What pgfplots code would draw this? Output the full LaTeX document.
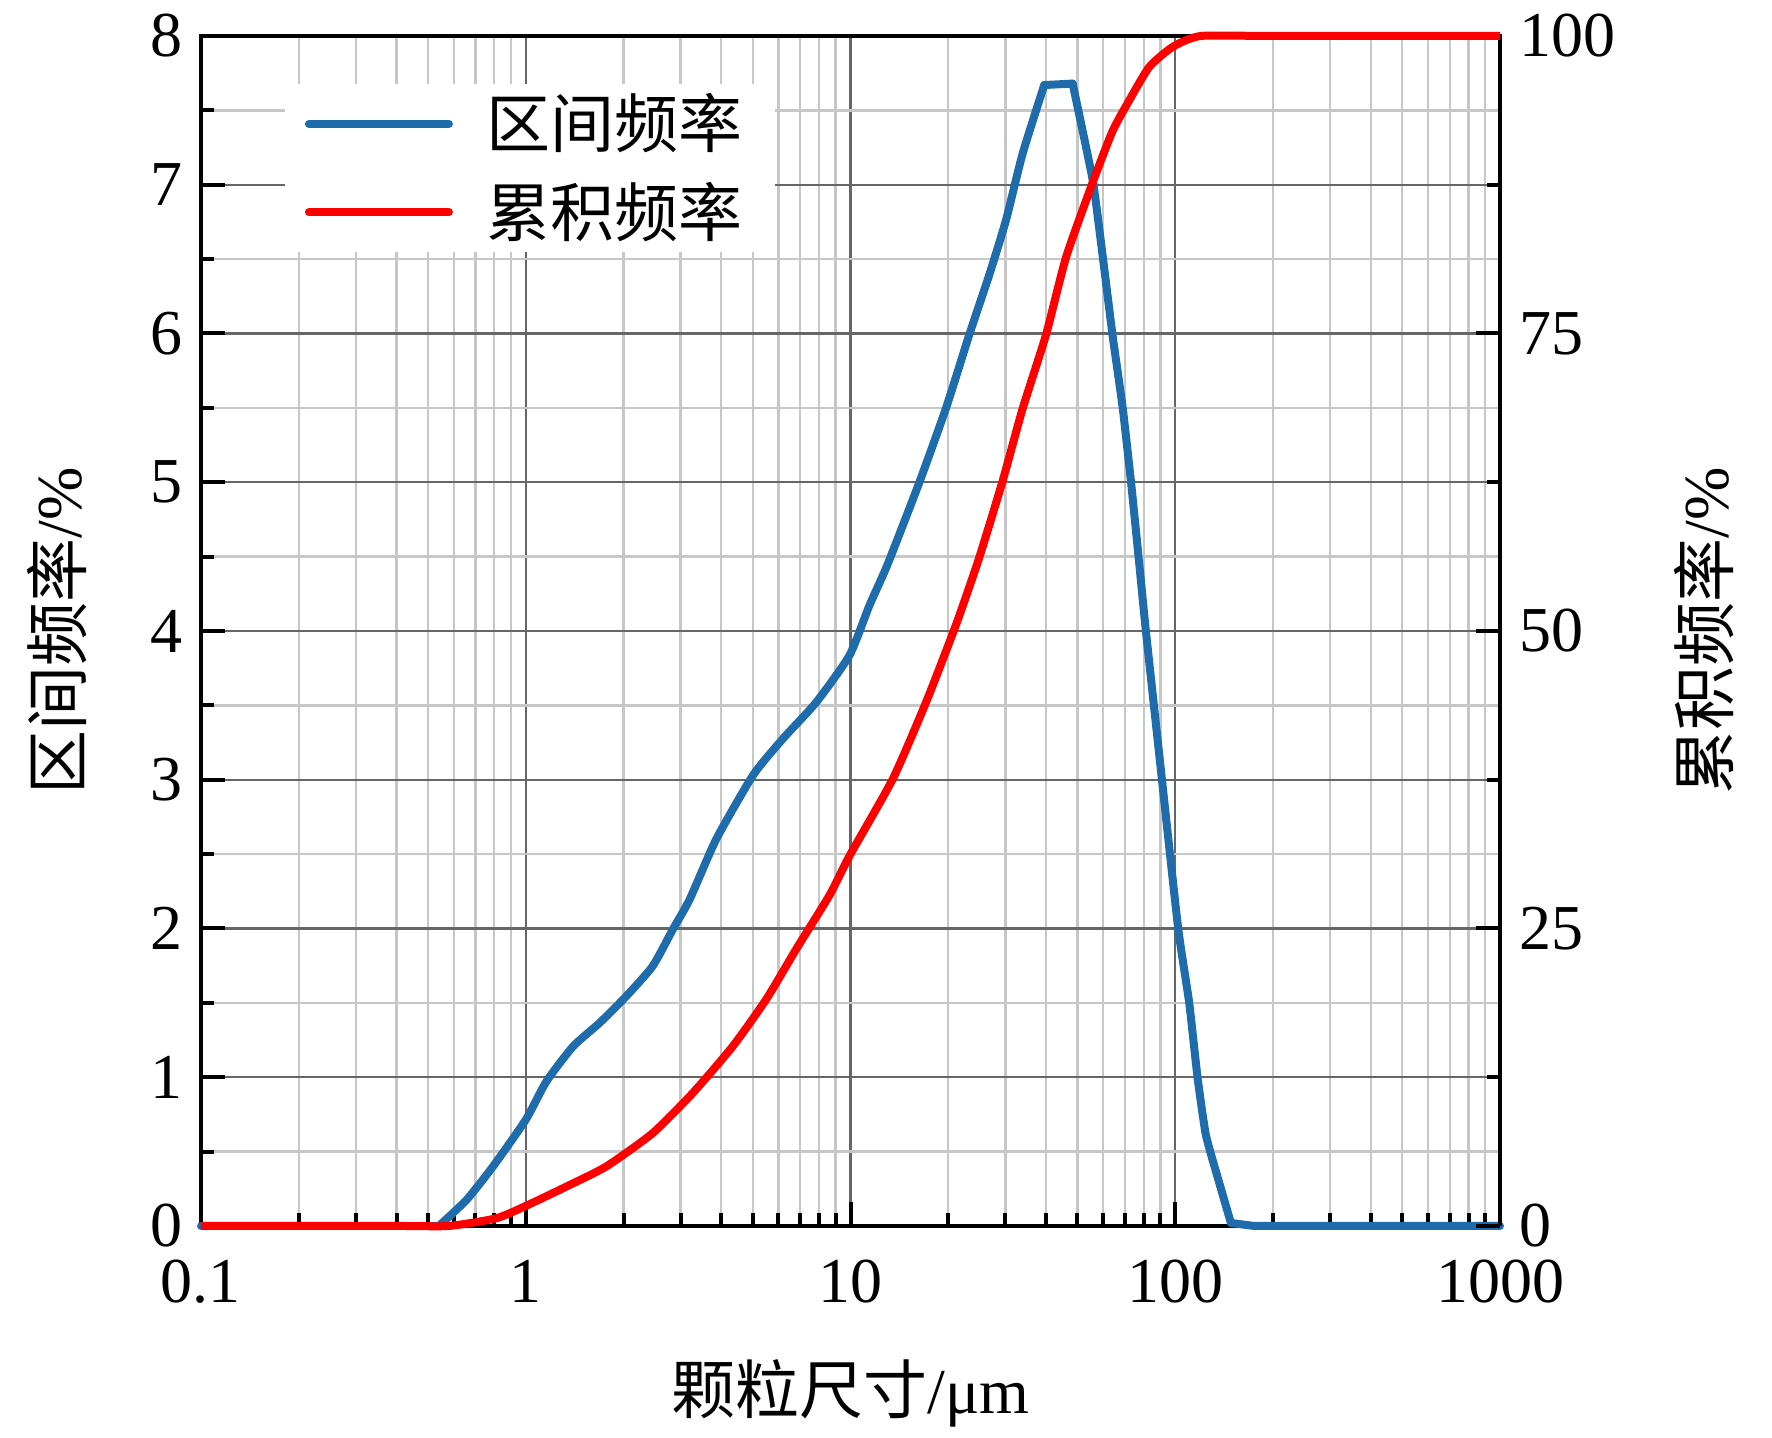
\documentclass[border=0pt]{standalone}
\usepackage{fontspec}
\setmainfont{Liberation Serif}
\newfontfamily\cjk{Noto Sans CJK SC}
\usepackage{pgfplots}
\usepackage{pgfplotstable}
\pgfplotsset{compat=1.18}
\definecolor{cblue}{RGB}{30,108,172}
\definecolor{cred}{RGB}{255,0,0}

% 区间频率: rising part
\pgfplotstableread{
x y
0.54 0
0.657 0.175
0.793 0.40
1.0 0.714
1.158 0.972
1.40 1.208
1.69 1.366
2.04 1.545
2.46 1.747
2.84 1.995
3.20 2.197
3.86 2.60
5.01 3.03
6.19 3.275
7.84 3.52
9.93 3.836
11.43 4.17
13.02 4.45
16.3 5.0
19.7 5.5
23.2 5.99
26.8 6.40
30.1 6.76
33.9 7.21
39.5 7.67
}\bluerise

% 区间频率: falling part
\pgfplotstableread{
x y
48.3 7.68
55.7 7.03
59.7 6.53
64.1 5.99
68.9 5.50
73.1 5.00
77.5 4.45
81.2 4.0
91.0 3.0
102.1 2.0
110.4 1.5
117.1 1.0
124.3 0.61
136.6 0.29
148.4 0.02
}\bluefall

\pgfplotstableread{
x y
0.1 0
0.4 0
0.58 0
0.812 0.65
1.0 1.68
1.334 3.31
1.77 5.0
2.46 7.8
3.27 11.18
4.34 15.1
5.50 19.04
6.8 23.25
8.62 27.8
9.93 31.1
13.5 37.57
17.1 44.03
21.1 50.48
24.8 56.0
29.4 62.6
33.9 68.7
40.0 74.9
46.1 81.4
55.7 87.7
64.1 92.0
72.2 94.6
83.2 97.4
98.4 99.1
120 100
200 100
1000 100
}\reddata

\begin{document}
\begin{tikzpicture}
\begin{axis}[
  scale only axis, width=324.75pt, height=297.5pt,
  xmode=log, xmin=0.1, xmax=1000,
  clip=false,
  axis line style={line width=1.2pt},
  tick style={line width=1pt, black},
  major tick length=6pt, minor tick length=3.2pt,
  tick align=inside,
  font=\fontsize{16}{19}\selectfont,
  ymin=0, ymax=8, ytick={0,1,...,8}, minor y tick num=1,
  xtick={0.1,1,10,100,1000}, xticklabels={0.1,1,10,100,1000},
  xtick pos=bottom, ytick pos=left,
  grid=both,
  major grid style={line width=0.6pt, black!60},
  minor grid style={line width=0.6pt, black!22},
  xticklabel style={yshift=-5pt},
  yticklabel style={xshift=-1pt},
  xlabel={{\cjk 颗粒尺寸}/μm},
  ylabel={{\cjk 区间频率}/\%},
  xlabel style={at={(axis description cs:0.5,-0.141)}, anchor=center},
  ylabel style={at={(axis description cs:-0.111,0.5)}, anchor=center},
  legend style={at={(axis description cs:0.064,0.9605)}, anchor=north west,
    fill=white, draw=none, inner xsep=5pt, inner ysep=0.5pt,
    font=\fontsize{16}{19}\selectfont\cjk,
    nodes={inner xsep=3pt, inner ysep=2pt},
    row sep=3pt},
  legend cell align=left,
  legend image code/.code={\draw[#1, line cap=round] (0pt,0pt) -- (35pt,0pt); \path (40.5pt,0pt);},
  /pgf/number format/assume math mode=true,
]
\coordinate (SW) at (rel axis cs:0,0);
\coordinate (NE) at (rel axis cs:1,1);
\addplot[cblue, line width=2pt, line cap=round] coordinates {(0.1,0) (0.54,0)};
\addlegendentry{区间频率}
\addlegendimage{cred, line width=2pt}
\addlegendentry{累积频率}
\addplot[cblue, line width=2pt, line cap=round, smooth, tension=0.35, forget plot] table[x=x,y=y] {\bluerise};
\addplot[cblue, line width=2pt, line cap=round, line join=round, forget plot] coordinates {(39.5,7.67) (48.3,7.68)};
\addplot[cblue, line width=2pt, line cap=round, smooth, tension=0.3, forget plot] table[x=x,y=y] {\bluefall};
\addplot[cblue, line width=2pt, line cap=round, forget plot] coordinates {(148.4,0.02) (175,0) (1000,0)};
\end{axis}
\begin{axis}[
  scale only axis, width=324.75pt, height=297.5pt,
  xmode=log, xmin=0.1, xmax=1000,
  clip=false,
  axis line style={line width=1.2pt},
  tick style={line width=1pt, black},
  major tick length=6pt, minor tick length=3.2pt,
  tick align=inside,
  font=\fontsize{16}{19}\selectfont,
  ymin=0, ymax=100, ytick={0,25,50,75,100}, minor y tick num=1,
  axis x line=none,
  axis y line*=right,
  yticklabel style={xshift=1.4pt},
  ylabel={{\cjk 累积频率}/\%},
  ylabel style={at={(axis description cs:1.157,0.5)}, anchor=center},
  /pgf/number format/assume math mode=true,
]
\addplot[cred, line width=2pt, line join=round, smooth, tension=0.35] table[x=x,y=y] {\reddata};
\end{axis}
\pgfresetboundingbox
\path ([shift={(-50.25pt,-53pt)}]SW) rectangle ([shift={(68pt,9pt)}]NE);
\end{tikzpicture}
\end{document}
